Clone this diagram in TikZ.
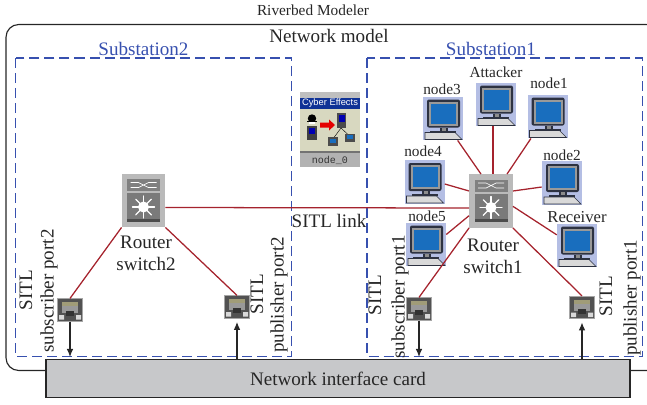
\documentclass[tikz,border=0pt]{standalone}
\usepackage{fontspec}
\usetikzlibrary{arrows.meta}
\setmainfont{Liberation Serif}
\newfontfamily\sansf{Liberation Sans}
\newfontfamily\monof{Liberation Mono}
\definecolor{linkred}{RGB}{165,35,45}
\definecolor{subblue}{RGB}{55,80,175}
\definecolor{nicgray}{RGB}{199,200,202}
\definecolor{pcback}{RGB}{180,190,228}
\definecolor{pcscreen}{RGB}{25,110,190}
\definecolor{pcframe}{RGB}{45,50,65}
\definecolor{cetitle}{RGB}{15,50,150}
\definecolor{cebody}{RGB}{216,216,192}
\tikzset{
  lbl/.style={inner sep=0pt,font=\fontsize{11.5pt}{12.5pt}\selectfont,align=center,text=black!85},
  biglbl/.style={inner sep=0pt,font=\fontsize{14.3pt}{16.5pt}\selectfont,align=center,text=black!85},
  sublbl/.style={inner sep=0pt,font=\fontsize{14.3pt}{16pt}\selectfont,text=subblue},
  vert/.style={biglbl,rotate=90},
  iconpc/.style={inner sep=0pt,minimum width=30pt,minimum height=32.5pt,fill=pcback},
  iconrt/.style={inner sep=0pt,minimum width=32.5pt,minimum height=40pt},
  iconport/.style={inner sep=0pt,minimum width=19pt,minimum height=17pt},
  link/.style={linkred,line width=0.95pt},
  arr/.style={black!85,line width=0.85pt,-{Latex[length=6pt,width=5pt]}},
  subbox/.style={subblue,line width=0.9pt,dash pattern=on 7.5pt off 3.75pt}
}
\newcommand{\mypc}[3]{%
  \node[iconpc] (#1) at (#2,#3) {};
  \begin{scope}[shift={(#1.center)},x=0.75pt,y=-0.75pt]
    \fill[pcframe,rounded corners=1.5pt] (-16,-19) rectangle (17,9);
    \fill[black!40] (-14,-17) rectangle (15,7);
    \fill[pcscreen] (-12,-15) rectangle (13,5);
    \fill[pcframe] (-3,9) rectangle (5,13);
    \fill[black!45] (-1,9) rectangle (3,13);
    \fill[pcframe] (-13,12) rectangle (13,14);
    \fill[black!15,draw=pcframe,line width=0.4pt] (-18,14) -- (12,14) -- (19,21) -- (-18,21) -- cycle;
  \end{scope}}
\newcommand{\myrouter}[3]{%
  \node[iconrt] (#1) at (#2,#3) {};
  \begin{scope}[shift={(#1.center)},x=0.75pt,y=-0.75pt]
    \fill[black!27] (-21.6,-26.6) rectangle (21.6,26.6);
    \fill[black!50] (-16.5,-21.5) rectangle (16.5,-9.5);
    \draw[white,line width=0.5pt] (-13,-18) -- (-5,-18) -- (5,-13) -- (13,-13) (-13,-13) -- (-5,-13) -- (5,-18) -- (13,-18);
    \fill[black!52] (-16.5,-7.5) rectangle (16.5,21);
    \fill[black!70] (-16.5,18) rectangle (16.5,21);
    \fill[white] (0,6.5) circle (5.5);
    \foreach \a in {0,45,...,315}{\draw[white,line width=1pt,line cap=round] (0,6.5) -- ++(\a:11);}
  \end{scope}}
\newcommand{\myport}[3]{%
  \node[iconport] (#1) at (#2,#3) {};
  \begin{scope}[shift={(#1.center)},x=0.75pt,y=-0.75pt]
    \fill[black!68,draw=black!35,line width=0.7pt] (-12.5,-11.3) rectangle (12.5,11.3);
    \fill[black!30!yellow!35!gray] (-8,-8) rectangle (8,-4);
    \fill[black!40] (-8,-4) rectangle (8,3);
    \fill[black!80] (-4,1) -- (4,1) -- (4,6) -- (-4,6) -- cycle;
    \fill[black!15] (-11,5) rectangle (-6,9.5) (6,5) rectangle (11,9.5);
  \end{scope}}
\begin{document}
\begin{tikzpicture}[x=0.75pt,y=-0.75pt]
\useasboundingbox (0,0) rectangle (647,404);
% outer frame (runs past the right edge of the picture)
\coordinate (frameA) at (46,370.5);
\coordinate (frameB) at (630,370.5);
\begin{scope}
\clip (0,0) rectangle (647,404);
\draw[black!85,line width=0.85pt,rounded corners=9.5pt] (frameA) -- (6,370.5) -- (6,24.5) -- (659,24.5) -- (659,370.5) -- (frameB);
\end{scope}
% substations
\draw[subbox] (15.5,58) rectangle (291.5,356.5);
\draw[subbox] (367,58) rectangle (642.7,356.5);
% NIC
\node[draw=black!85,fill=nicgray,line width=0.85pt,inner sep=0pt,minimum width=438pt,minimum height=28.5pt,biglbl] (nic) at (338,378.5) {Network interface card};
% icons
\myrouter{r1}{491}{201}
\myrouter{r2}{143.5}{200.5}
\mypc{n3}{443}{118.5}
\mypc{att}{496}{104.5}
\mypc{n1}{547.5}{116.5}
\mypc{n2}{562}{183}
\mypc{n4}{424.5}{182}
\mypc{n5}{426}{244.5}
\mypc{rcv}{577}{245.5}
\myport{s2}{70}{310}
\myport{p2}{237}{307}
\myport{s1}{419}{309}
\myport{p1}{582}{307.5}
% links
\draw[link] ([yshift=-5.25pt]r2.east) -- ([yshift=-5.25pt]r1.west);
\draw[link] ([xshift=11pt]n3.south) -- ([xshift=-7.5pt]r1.north);
\draw[link] ([xshift=-2.25pt]att.south) -- ([xshift=1.5pt]r1.north);
\draw[link] ([xshift=-12.4pt]n1.south) -- ([xshift=12pt]r1.north);
\draw[link] ([yshift=7.5pt]r1.east) -- ([yshift=-3pt]n2.west);
\draw[link] ([yshift=-1.5pt]n4.east) -- ([yshift=7.5pt]r1.west);
\draw[link] ([yshift=7.5pt]n5.east) -- ([yshift=-11pt]r1.west);
\draw[link] ([yshift=-4pt]r1.east) -- ([yshift=8pt]rcv.west);
\draw[link] (r1.south west) -- (s1.north);
\draw[link] (r1.south east) -- (p1.north);
\draw[link] (r2.south west) -- (s2.north);
\draw[link] (r2.south east) -- (p2.north);
% arrows
\draw[arr,shorten >=1.5pt] (s2.south) -- (s2.south |- nic.north);
\draw[arr,shorten >=1.5pt] (s1.south) -- (s1.south |- nic.north);
\draw[arr,shorten >=2.5pt] (p2.south |- nic.north) -- (p2.south);
\draw[arr,shorten >=2.5pt] (p1.south |- nic.north) -- (p1.south);
% cyber effects
\node[inner sep=0pt,minimum width=45pt,minimum height=56pt,fill=black!25] (ce) at (330,129.5) {};
\begin{scope}[shift={(ce.center)},x=0.75pt,y=-0.75pt]
  \fill[cetitle] (-30,-31.5) rectangle (30,-20.5);
  \node[inner sep=0pt,text=white,font=\sansf\fontsize{7pt}{8pt}\selectfont] (cet) at (0,-26) {Cyber Effects};
  \fill[cebody] (-30,-20.5) rectangle (30,21);
  \fill[black!55] (-30,21) rectangle (30,23);
  \fill[black!30] (-30,23) rectangle (30,37.5);
  \node[inner sep=0pt,font=\monof\fontsize{7.5pt}{8pt}\selectfont,text=black!80] (cen) at (0,30.5) {node\_0};
  % spy
  \fill[black] (-18,-11) circle (4.2);
  \fill[black] (-23,-9) rectangle (-13,-7.5);
  \fill[white] (-21,-8) rectangle (-15,-5.5);
  \fill[black!75] (-23,-4) rectangle (-13,10);
  \fill[blue!70!black] (-21,-2) rectangle (-15,4);
  % arrow
  \fill[red!90!black] (-10,-7) -- (-1,-7) -- (-1,-10) -- (5,-4.5) -- (-1,1) -- (-1,-2) -- (-10,-2) -- cycle;
  % server
  \fill[black!70] (7,-17) rectangle (16,-1.5);
  \fill[blue!70!black] (8.5,-15) rectangle (14.5,-8);
  \draw[black,line width=0.3pt] (11,-1.5) -- (4,8) (11,-1.5) -- (18,5);
  \fill[black!70] (-2,7.5) rectangle (8,16.5);
  \fill[pcscreen] (0,9) rectangle (6,13);
  \fill[black!70] (15,4) rectangle (25,12);
  \fill[pcscreen] (17,5.5) rectangle (23,9.5);
\end{scope}
% labels
\node[lbl] (tRM) at (313,10) {Riverbed Modeler};
\node[biglbl] (tNM) at (329,36) {Network model};
\node[sublbl] (tS2) at (143.5,49) {Substation2};
\node[sublbl] (tS1) at (491,49) {Substation1};
\node[lbl] (tn3) at (442,89) {node3};
\node[lbl] (tAt) at (496,72) {Attacker};
\node[lbl] (tn1) at (549,83.5) {node1};
\node[lbl] (tn2) at (562,155) {node2};
\node[lbl] (tn4) at (423,151) {node4};
\node[lbl] (tn5) at (427,216) {node5};
\node[lbl,font=\fontsize{12.5pt}{13pt}\selectfont] (tRc) at (577,217) {Receiver};
\node[biglbl] (tR1) at (493,256) {Router\\switch1};
\node[biglbl] (tR2) at (146,253) {Router\\switch2};
\node[biglbl] (tLk) at (329,220.5) {SITL link};
\node[vert] (v1) at (26,290) {SITL};
\node[vert] (v2) at (49,291) {subscriber port2};
\node[vert] (v3) at (257,294) {SITL};
\node[vert] (v4) at (279,295) {publisher port2};
\node[vert] (v5) at (375,295) {SITL};
\node[vert] (v6) at (400,297) {subscriber port1};
\node[vert] (v7) at (606,296) {SITL};
\node[vert] (v8) at (632,298) {publisher port1};
\end{tikzpicture}
\end{document}
